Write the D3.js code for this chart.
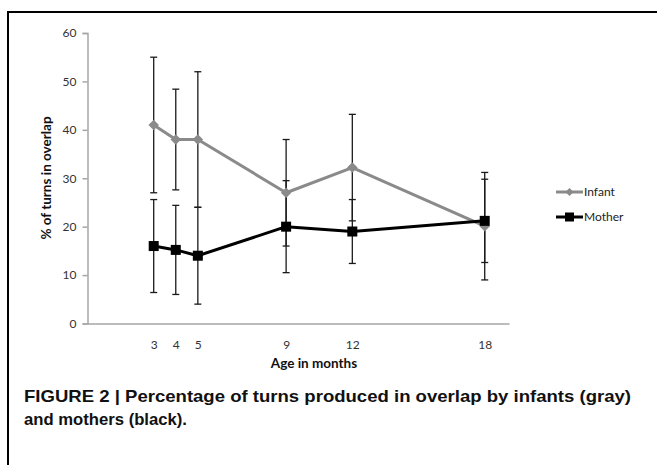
<!DOCTYPE html>
<html><head><meta charset="utf-8">
<script src="https://cdn.jsdelivr.net/npm/d3@7"></script>
<style>body{margin:0;background:#fff}svg{display:block}</style>
</head><body>
<script>
const ages = [3, 4, 5, 9, 12, 18];
const infantMean = [41, 38, 38, 27, 32.2, 20.1];
const infantErr  = [14, 10.4, 14, 11, 11, 11.1];
const motherMean = [16, 15.2, 14, 20, 19, 21.2];
const motherErr  = [9.6, 9.2, 10, 9.5, 6.6, 8.6];
const yTicks = [0, 10, 20, 30, 40, 50, 60];
const seriesNames = ["Infant", "Mother"];
const caption1 = "FIGURE 2 | Percentage of turns produced in overlap by infants (gray)";
const caption2 = "and mothers (black).";

const W = 657, H = 465;
const svg = d3.select("body").append("svg").attr("width", W).attr("height", H);

// frame
svg.append("path").attr("d", `M8,${H+5} L8,12 L657,12`).attr("fill","none").attr("stroke","#000").attr("stroke-width",2);

const x = d3.scaleLinear().domain([0, 19.1]).range([87.5, 509]);
const y = d3.scaleLinear().domain([0, 60]).range([323.5, 33]);

const labFont = "Lato, 'Open Sans', sans-serif";

// y axis
const yAxis = d3.axisLeft(y).tickValues(yTicks).tickSize(5).tickPadding(6);
const gy = svg.append("g").attr("transform", `translate(${x(0)},0)`).call(yAxis);
gy.select(".domain").attr("stroke", "#a6a6a6").attr("stroke-width", 1.5);
gy.selectAll(".tick line").attr("stroke", "#a6a6a6").attr("stroke-width", 1.5);
gy.selectAll(".tick text").attr("font-family", labFont).attr("font-size", 12).attr("fill", "#333");

// x axis
const xAxis = d3.axisBottom(x).tickValues(ages).tickSize(0).tickPadding(17).tickSizeOuter(0);
const gx = svg.append("g").attr("transform", `translate(0,${y(0)})`).call(xAxis);
gx.select(".domain").attr("stroke", "#a6a6a6").attr("stroke-width", 1.5);
gx.selectAll(".tick text").attr("font-family", labFont).attr("font-size", 12).attr("fill", "#333");

// axis titles
svg.append("text").attr("x", 314).attr("y", 368).attr("text-anchor", "middle")
  .attr("font-family", labFont).attr("font-weight", "bold").attr("font-size", 13.5).attr("fill", "#111")
  .text("Age in months");
svg.append("text").attr("transform", "translate(51,178) rotate(-90)").attr("text-anchor", "middle")
  .attr("font-family", labFont).attr("font-weight", "bold").attr("font-size", 13.5).attr("fill", "#111")
  .text("% of turns in overlap");

// error bars
function errorBars(means, errs, cls) {
  const g = svg.append("g").attr("class", cls);
  ages.forEach((a, i) => {
    const cx = x(a), lo = y(means[i] - errs[i]), hi = y(means[i] + errs[i]);
    g.append("line").attr("x1", cx).attr("x2", cx).attr("y1", lo).attr("y2", hi).attr("stroke", "#1a1a1a").attr("stroke-width", 1.3);
    [lo, hi].forEach(yy => g.append("line").attr("x1", cx - 3.5).attr("x2", cx + 3.5).attr("y1", yy).attr("y2", yy).attr("stroke", "#1a1a1a").attr("stroke-width", 1.3));
  });
}
errorBars(infantMean, infantErr, "eb-infant");
errorBars(motherMean, motherErr, "eb-mother");

const line = d3.line().x((d, i) => x(ages[i])).y(d => y(d));
const gray = "#8a8a8a";

svg.append("path").datum(infantMean).attr("d", line).attr("fill", "none").attr("stroke", gray).attr("stroke-width", 3).attr("stroke-linejoin","round");
svg.append("g").selectAll("path").data(infantMean).join("path")
  .attr("d", d3.symbol(d3.symbolDiamond2, 70)())
  .attr("transform", (d, i) => `translate(${x(ages[i])},${y(d)})`).attr("fill", gray);

svg.append("path").datum(motherMean).attr("d", line).attr("fill", "none").attr("stroke", "#000").attr("stroke-width", 3).attr("stroke-linejoin","round");
svg.append("g").selectAll("rect").data(motherMean).join("rect")
  .attr("x", (d, i) => x(ages[i]) - 5).attr("y", d => y(d) - 5).attr("width", 10).attr("height", 10).attr("fill", "#000");

// legend
const leg = svg.append("g");
const legY = [192, 217];
leg.append("line").attr("x1", 556).attr("x2", 583).attr("y1", legY[0]).attr("y2", legY[0]).attr("stroke", gray).attr("stroke-width", 3);
leg.append("path").attr("d", d3.symbol(d3.symbolDiamond2, 40)()).attr("transform", `translate(569.5,${legY[0]})`).attr("fill", gray);
leg.append("line").attr("x1", 556).attr("x2", 583).attr("y1", legY[1]).attr("y2", legY[1]).attr("stroke", "#000").attr("stroke-width", 3);
leg.append("rect").attr("x", 565).attr("y", legY[1] - 4.5).attr("width", 9).attr("height", 9).attr("fill", "#000");
seriesNames.forEach((n, i) => leg.append("text").attr("x", 584).attr("y", legY[i] + 4)
  .attr("font-family", labFont).attr("font-size", 12).attr("fill", "#222").text(n));

// caption
const capFont = "'Liberation Sans', Arial, sans-serif";
svg.append("text").attr("x", 24).attr("y", 402).attr("font-family", capFont).attr("font-weight", "bold")
  .attr("font-size", 16.5).attr("fill", "#111").attr("textLength", 607).attr("lengthAdjust", "spacingAndGlyphs").text(caption1);
svg.append("text").attr("x", 24).attr("y", 425).attr("font-family", capFont).attr("font-weight", "bold")
  .attr("font-size", 16.5).attr("fill", "#111").attr("textLength", 163).attr("lengthAdjust", "spacingAndGlyphs").text(caption2);
</script>
</body></html>
